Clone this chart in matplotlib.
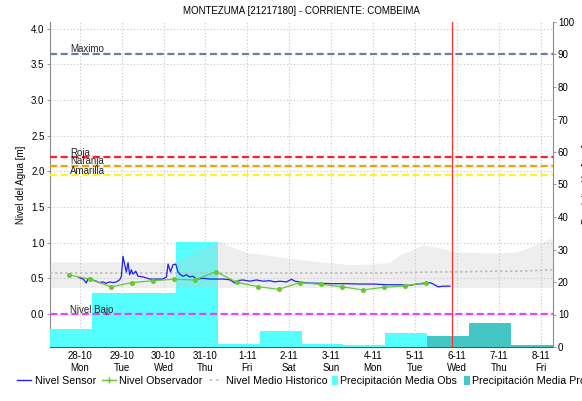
import numpy as np
import pandas as pd
import matplotlib
matplotlib.use('Agg')
import matplotlib.pyplot as plt
from matplotlib.lines import Line2D
from matplotlib.patches import Patch

plt.rcParams['font.family'] = ['Liberation Sans', 'DejaVu Sans']

#%% datos
inicio = pd.Timestamp('2024-10-28 00:00')

# nivel del sensor (horas desde 28-10 00:00, metros)
sensor_horas = [-0.5, 2, 3.8, 4.8, 6.7, 8, 9.6, 11, 13.3, 15, 17.2, 19, 21, 22.9,
                23.9, 24.8, 25.8, 26.7, 27.7, 28.6, 29.6, 30.5, 32.1, 33.4, 36.3,
                40.1, 43.9, 47.7, 49.7, 50.6, 52.0, 53.4, 55.0, 56.3, 57.7, 59.2,
                61.1, 63.0, 64.9, 66.8, 70.6, 74.5, 78.3, 82.1, 85.9, 88.8, 89.8,
                93.5, 97.4, 101.2, 105.0, 108.8, 111.7, 114.6, 118.4, 121.3, 123.2,
                126.0, 129.9, 137.5, 145.1, 152.8, 160.4, 168.0, 175.7, 183.3,
                189.0, 192.9, 196.6, 200.5, 202.4, 205.3, 208.1, 212.0]
sensor_nivel = [0.51, 0.49, 0.435, 0.50, 0.49, 0.47, 0.46, 0.44, 0.45, 0.43, 0.45,
                0.44, 0.45, 0.48, 0.53, 0.81, 0.69, 0.59, 0.72, 0.55, 0.62, 0.56,
                0.60, 0.53, 0.52, 0.49, 0.49, 0.49, 0.52, 0.70, 0.59, 0.69, 0.70,
                0.59, 0.55, 0.53, 0.55, 0.52, 0.53, 0.49, 0.50, 0.49, 0.49, 0.49,
                0.48, 0.435, 0.467, 0.477, 0.46, 0.477, 0.46, 0.467, 0.45, 0.46,
                0.45, 0.487, 0.46, 0.45, 0.435, 0.43, 0.425, 0.425, 0.42, 0.42,
                0.41, 0.41, 0.40, 0.42, 0.425, 0.44, 0.42, 0.38, 0.39, 0.39]

# lecturas del observador (6 am y 6 pm)
obs_horas = [-6, 6, 18, 30, 42, 54, 66, 78, 90, 102, 114, 126, 138, 150, 162,
             174, 186, 198]
obs_nivel = [0.547, 0.487, 0.38, 0.44, 0.467, 0.487, 0.477, 0.593, 0.444, 0.383,
             0.346, 0.44, 0.416, 0.383, 0.337, 0.374, 0.393, 0.44]

# nivel medio historico y su rango
hist_horas = [-17, 0, 24, 48, 54.5, 79, 96, 118.6, 137.5, 156.5, 177.6, 183.4,
              196.6, 206, 216, 235, 250.3, 271]
hist_sup = [0.73, 0.73, 0.73, 0.73, 0.73, 1.02, 0.86, 0.79, 0.73, 0.69, 0.72,
            0.83, 0.97, 0.93, 0.87, 0.855, 0.87, 1.07]
hist_inf = [0.37, 0.37, 0.37, 0.37, 0.37, 0.37, 0.37, 0.37, 0.37, 0.37, 0.37,
            0.37, 0.37, 0.37, 0.37, 0.37, 0.37, 0.37]
hist_medio = [0.575, 0.575, 0.575, 0.575, 0.575, 0.575, 0.575, 0.575, 0.575,
              0.575, 0.575, 0.58, 0.585, 0.59, 0.59, 0.60, 0.60, 0.62]

# precipitacion diaria (dia de 7 am a 7 am), mm
precip_obs = [5.4, 16.6, 16.6, 32.2, 0.8, 4.8, 0.9, 0.5, 4.4]
precip_pron = [3.4, 7.4, 0.5]

# umbrales de nivel (m)
umbral_nombre = ['Maximo', 'Roja', 'Naranja', 'Amarilla', 'Nivel Bajo']
umbral_valor = [3.65, 2.2, 2.08, 1.95, 0.0]
umbral_color = ['#6B7BB0', '#FF2020', '#FF9A00', '#F5F530', '#EE44EE']

dias = ['28-10', '29-10', '30-10', '31-10', '1-11', '2-11', '3-11', '4-11',
        '5-11', '6-11', '7-11', '8-11']
dias_semana = ['Mon', 'Tue', 'Wed', 'Thu', 'Fri', 'Sat', 'Sun', 'Mon', 'Tue',
               'Wed', 'Thu', 'Fri']

ahora = pd.Timestamp('2024-11-05 21:00')

def en_horas(h):
    return inicio + pd.to_timedelta(np.array(h, dtype=float), unit='h')

fechas_obs = pd.date_range('2024-10-27 07:00', periods=len(precip_obs), freq='D')
fechas_pron = pd.date_range('2024-11-05 07:00', periods=len(precip_pron), freq='D')
fechas_ticks = pd.date_range('2024-10-28', periods=len(dias), freq='D')

#%% figura
fig = plt.figure(figsize=(5.82, 4.01), dpi=100)
rect = [50/582, 54/401, 503/582, 325/401]
ax = fig.add_axes(rect)          # ejes de nivel con grilla
ax_p = ax.twinx()                # precipitacion
ax_l = fig.add_axes(rect, sharex=ax, sharey=ax)  # curvas encima de las barras
ax.set_zorder(0)
ax_p.set_zorder(1)
ax_l.set_zorder(2)
ax_p.patch.set_visible(False)
ax_l.patch.set_visible(False)
ax_l.axis('off')

ax.set_xlim(pd.Timestamp('2024-10-27 07:00'), pd.Timestamp('2024-11-08 07:00'))
ax.set_ylim(-0.463, 4.095)
ax_p.set_ylim(0, 100)

ax.set_yticks(np.arange(0, 4.01, 0.5))
ax.set_yticklabels(['%.1f' % v for v in np.arange(0, 4.01, 0.5)])
ax.set_xticks(fechas_ticks)
ax.set_xticklabels([d + '\n' + s for d, s in zip(dias, dias_semana)])
ax_p.set_yticks(np.arange(0, 101, 10))

ax.grid(True, color='#c4c4c4', linestyle=(0, (1, 2)), linewidth=0.8)
ax.set_axisbelow(True)

for lado in ['top', 'right']:
    ax.spines[lado].set_visible(False)
ax.spines['left'].set_color('#8a8a8a')
ax.spines['bottom'].set_linestyle((0, (1, 1)))
ax.spines['bottom'].set_color('#555555')
for lado in ['top', 'left', 'bottom']:
    ax_p.spines[lado].set_visible(False)
ax_p.spines['right'].set_color('#8a8a8a')

ax.tick_params(axis='y', length=2, width=0.6, color='#8a8a8a', labelsize=7, pad=2)
ax.tick_params(axis='x', length=0, labelsize=7, pad=3)
ax_p.tick_params(axis='y', length=2, width=0.6, color='#8a8a8a', labelsize=7, pad=1.5)

# barras de precipitacion
ax_p.bar(fechas_obs, precip_obs, width=1.0, align='edge', color='#55FFFF',
         edgecolor='none')
ax_p.bar(fechas_pron, precip_pron, width=1.0, align='edge', color='#45C6C6',
         edgecolor='none')

# rango historico
ax_l.fill_between(en_horas(hist_horas), hist_inf, hist_sup, color='#c8c8c8',
                  alpha=0.3, linewidth=0)
ax_l.plot(en_horas(hist_horas), hist_medio, color='#bdbdbd', linewidth=1.2,
          linestyle=(0, (1.5, 1.5)))

# umbrales
for nombre, valor, color in zip(umbral_nombre, umbral_valor, umbral_color):
    ax_l.axhline(valor, color=color, linewidth=1.6, linestyle=(0, (3.2, 1.6)))
    ax_l.text(0.04, valor + 0.02, nombre, transform=ax_l.get_yaxis_transform(),
              fontsize=7, va='baseline', ha='left', color='#222222')

ax_l.plot(en_horas(sensor_horas), sensor_nivel, color='#2020F0', linewidth=0.9)
ax_l.plot(en_horas(obs_horas), obs_nivel, color='#66C833', linewidth=0.9,
          marker='o', markersize=2.6)

ax_l.axvline(ahora, color='#FF3030', linewidth=0.9)

ax.set_title('MONTEZUMA [21217180] - CORRIENTE: COMBEIMA', fontsize=7, pad=6)
ax.set_ylabel('Nivel del Agua [m]', fontsize=7, labelpad=4)
ax_p.set_ylabel('Precipitación [mm]', fontsize=7, labelpad=6)

# leyenda: lineas y barras por separado (las barras llevan un cuadro angosto)
lineas = [Line2D([], [], color='#2020F0', linewidth=1),
          Line2D([], [], color='#66C833', linewidth=1, marker='+', markersize=4),
          Line2D([], [], color='#c8c8c8', linewidth=1.2, linestyle=(0, (2, 2)))]
fig.legend(lineas, ['Nivel Sensor', 'Nivel Observador', 'Nivel Medio Historico'],
           loc='center left', bbox_to_anchor=(17/582, 20/401),
           ncol=3, frameon=False, fontsize=7.7, handlelength=1.35,
           handletextpad=0.3, columnspacing=0.55, borderaxespad=0, borderpad=0)
barras = [Patch(facecolor='#55FFFF'), Patch(facecolor='#45C6C6')]
fig.legend(barras, ['Precipitación Media Obs', 'Precipitación Media Pronosticada'],
           loc='center left', bbox_to_anchor=(332/582, 20/401),
           ncol=2, frameon=False, fontsize=7.7, handlelength=0.56, handleheight=1.0,
           handletextpad=0.22, columnspacing=0.6, borderaxespad=0, borderpad=0)

fig.savefig('out.png', dpi=100)
